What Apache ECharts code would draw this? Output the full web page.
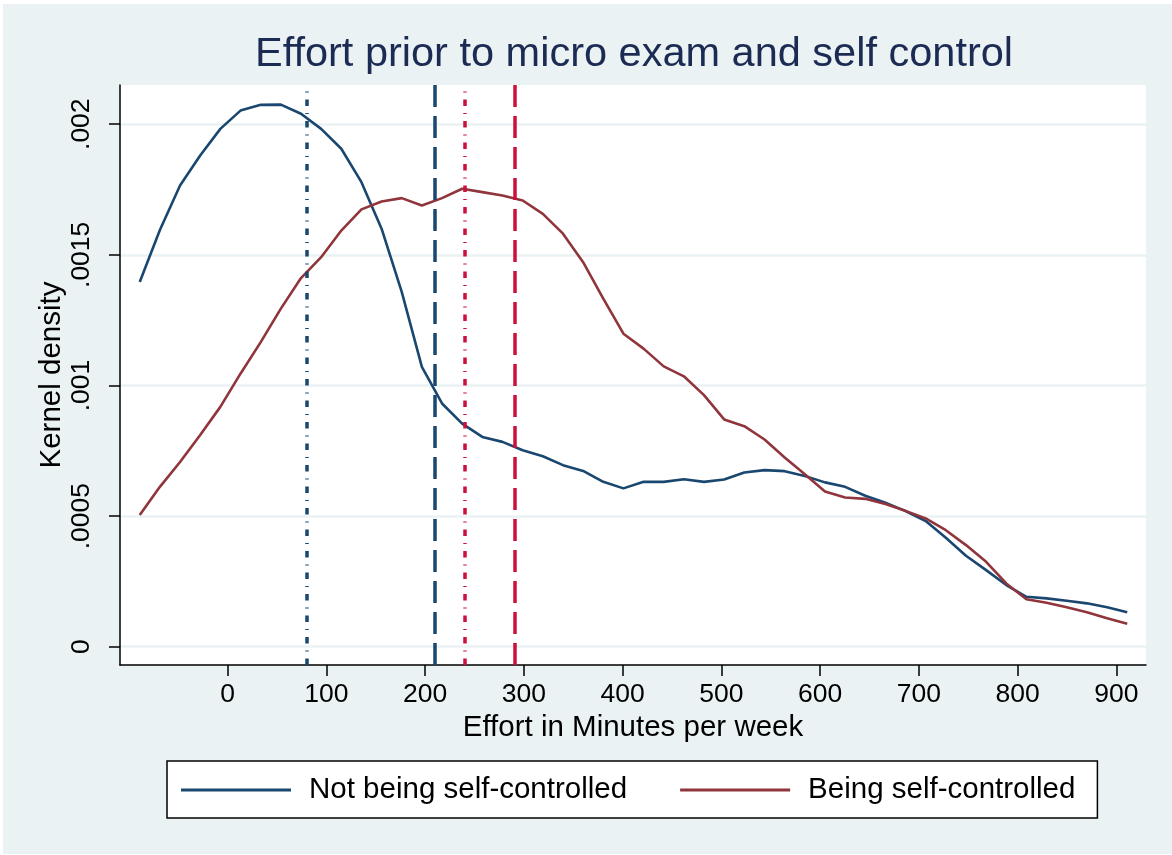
<!DOCTYPE html>
<html>
<head>
<meta charset="utf-8">
<script src="https://cdn.jsdelivr.net/npm/echarts@6/dist/echarts.min.js"></script>
<style>
  html, body { margin: 0; padding: 0; background: #fff; }
  #chart { width: 1172px; height: 855px; }
</style>
</head>
<body>
<div id="chart"></div>
<script>
// kernel density evaluation points (minutes per week)
const effort = [
  -89.0, -68.6, -48.2, -27.8, -7.4, 13.0, 33.5, 53.9, 74.3, 94.7,
  115.1, 135.5, 155.9, 176.3, 196.7, 217.1, 237.5, 257.9, 278.3, 298.8,
  319.2, 339.6, 360.0, 380.4, 400.8, 421.2, 441.6, 462.0, 482.4, 502.8,
  523.2, 543.7, 564.1, 584.5, 604.9, 625.3, 645.7, 666.1, 686.5, 706.9,
  727.3, 747.7, 768.1, 788.5, 808.9, 829.3, 849.7, 870.2, 890.6, 911.0
]

const notSelfControlled = [
  0.001396, 0.001595, 0.001765, 0.001880, 0.001982, 0.002052, 0.002074, 0.002075, 0.002040, 0.001982,
  0.001906, 0.001778, 0.001600, 0.001358, 0.001071, 0.000931, 0.000854, 0.000803, 0.000784, 0.000752,
  0.000729, 0.000695, 0.000673, 0.000631, 0.000606, 0.000631, 0.000631, 0.000641, 0.000631, 0.000640,
  0.000667, 0.000676, 0.000672, 0.000653, 0.000629, 0.000612, 0.000578, 0.000551, 0.000519, 0.000481,
  0.000417, 0.000348, 0.000293, 0.000236, 0.000191, 0.000185, 0.000176, 0.000166, 0.000151, 0.000132
]

const selfControlled = [
  0.000504, 0.000612, 0.000707, 0.000810, 0.000918, 0.001045, 0.001166, 0.001294, 0.001411, 0.001491,
  0.001593, 0.001674, 0.001704, 0.001717, 0.001689, 0.001717, 0.001753, 0.001740, 0.001727, 0.001708,
  0.001657, 0.001581, 0.001472, 0.001332, 0.001198, 0.001141, 0.001073, 0.001035, 0.000963, 0.000870,
  0.000844, 0.000793, 0.000724, 0.000660, 0.000594, 0.000571, 0.000566, 0.000546, 0.000520, 0.000491,
  0.000446, 0.000389, 0.000325, 0.000242, 0.000182, 0.000168, 0.000151, 0.000132, 0.000109, 0.000088
]

// group medians / means drawn as vertical reference lines
const notSCMedian = 80
const notSCMean = 210
const scMedian = 240
const scMean = 291

const xTicks = [0, 100, 200, 300, 400, 500, 600, 700, 800, 900]
const yTicks = [0, 0.0005, 0.001, 0.0015, 0.002]
const yTickLabels = ['0', '.0005', '.001', '.0015', '.002']

const seriesNames = ['Not being self-controlled', 'Being self-controlled']

const font = "'Liberation Sans', Arial, sans-serif"
const navy = '#1a476f'
const maroon = '#90353b'
const cranberry = '#cc0f3c'

const pairs = (ys) => effort.map((x, i) => [x, ys[i]])

const refLine = (x, color, dash) => ({
  xAxis: x,
  lineStyle: { color, width: 3.5, type: dash, cap: 'butt' }
})

function draw () {
  const chart = echarts.init(document.getElementById('chart'))

  const option = {
    animation: false,
    backgroundColor: '#fff',
    textStyle: { fontFamily: font },
    graphic: [{
      type: 'rect',
      z: -10,
      silent: true,
      shape: { x: 3, y: 4, width: 1169, height: 850 },
      style: { fill: '#eaf2f3' }
    }],
    title: {
      text: 'Effort prior to micro exam and self control',
      left: 634,
      top: 34,
      padding: 0,
      textAlign: 'center',
      textStyle: { fontFamily: font, fontSize: 41.5, fontWeight: 'normal', color: '#1c2b54' }
    },
    legend: {
      data: seriesNames,
      left: 167,
      top: 761,
      padding: [14, 22, 13, 14],
      itemWidth: 110,
      itemHeight: 3,
      itemGap: 53,
      icon: 'rect',
      backgroundColor: '#fff',
      borderColor: '#000',
      borderWidth: 1.5,
      borderRadius: 0,
      textStyle: { fontFamily: font, fontSize: 29.5, color: '#000', padding: [0, 0, 0, 13] }
    },
    grid: {
      left: 120,
      right: 26,
      top: 85,
      bottom: 190,
      show: true,
      backgroundColor: '#fff',
      borderWidth: 0
    },
    xAxis: {
      type: 'value',
      min: -109,
      max: 930,
      name: 'Effort in Minutes per week',
      nameLocation: 'middle',
      nameGap: 48,
      nameMoveOverlap: false,
      nameTextStyle: { fontFamily: font, fontSize: 29.5, color: '#000' },
      axisLine: { onZero: false, lineStyle: { color: '#000', width: 1.5 } },
      axisTick: { customValues: xTicks, length: 11, lineStyle: { color: '#000', width: 1.5 } },
      axisLabel: { customValues: xTicks, fontFamily: font, fontSize: 26.5, color: '#000', margin: 16 },
      splitLine: { show: false }
    },
    yAxis: {
      type: 'value',
      min: -0.00007,
      max: 0.00215,
      name: 'Kernel density',
      nameLocation: 'middle',
      nameGap: 53,
      nameMoveOverlap: false,
      nameTextStyle: { fontFamily: font, fontSize: 29.5, color: '#000' },
      axisLine: { show: true, onZero: false, lineStyle: { color: '#000', width: 1.5 } },
      axisTick: { show: true, customValues: yTicks, length: 11, lineStyle: { color: '#000', width: 1.5 } },
      axisLabel: {
        customValues: yTicks,
        rotate: 90,
        margin: 25,
        fontFamily: font,
        fontSize: 26.5,
        color: '#000',
        formatter (v) {
          const i = yTicks.findIndex(t => Math.abs(t - v) < 1e-9)
          return i >= 0 ? yTickLabels[i] : ''
        }
      },
      splitLine: { show: true, lineStyle: { color: '#eaf2f3', width: 2.5 } }
    },
    series: [
      {
        name: seriesNames[0],
        type: 'line',
        data: pairs(notSelfControlled),
        symbol: 'none',
        color: navy,
        lineStyle: { color: navy, width: 2.6 },
        z: 3,
        markLine: {
          silent: true,
          symbol: 'none',
          label: { show: false },
          data: [
            refLine(notSCMedian, navy, [6.5, 7, 1, 7]),
            refLine(notSCMean, navy, [22, 9])
          ]
        }
      },
      {
        name: seriesNames[1],
        type: 'line',
        data: pairs(selfControlled),
        symbol: 'none',
        color: maroon,
        lineStyle: { color: maroon, width: 2.6 },
        z: 3,
        markLine: {
          silent: true,
          symbol: 'none',
          label: { show: false },
          data: [
            refLine(scMedian, cranberry, [6.5, 7, 1, 7]),
            refLine(scMean, cranberry, [22, 9])
          ]
        }
      }
    ]
  }

  chart.setOption(option)
}

draw()
</script>
</body>
</html>
